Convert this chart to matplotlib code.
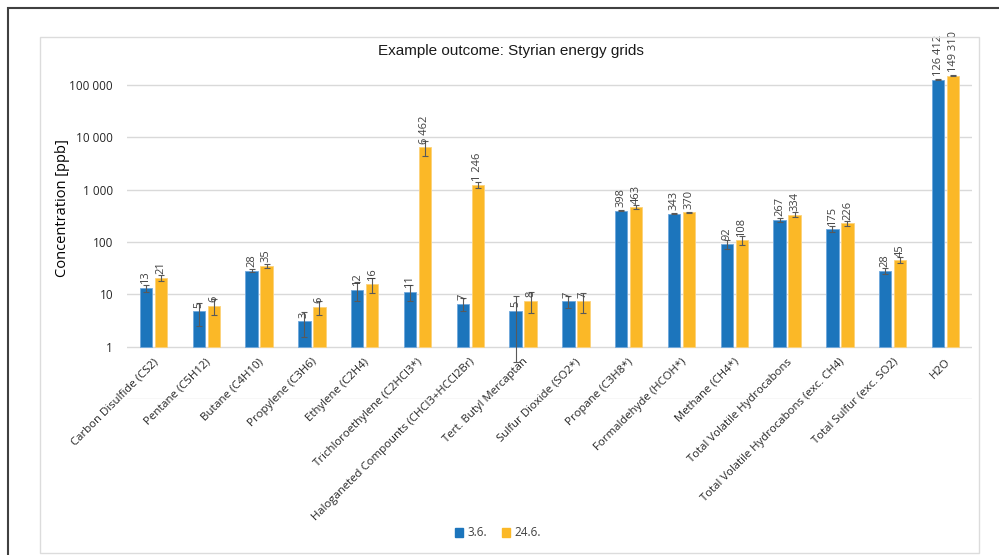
import numpy as np
import matplotlib
matplotlib.use("Agg")
import matplotlib.pyplot as plt
from matplotlib.patches import Rectangle, Patch

categories = ["Carbon Disulfide (CS2)", "Pentane (C5H12)", "Butane (C4H10)", "Propylene (C3H6)",
              "Ethylene (C2H4)", "Trichloroethylene (C2HCl3*)", "Haloganeted Compounts (CHCl3+HCCl2Br)",
              "Tert. Butyl Mercaptan", "Sulfur Dioxide (SO2*)", "Propane (C3H8*)", "Formaldehyde (HCOH*)",
              "Methane (CH4*)", "Total Volatile Hydrocabons", "Total Volatile Hydrocabons (exc. CH4)",
              "Total Sulfur (exc. SO2)", "H2O"]
series_names = ["3.6.", "24.6."]
vals_a = [13.3, 4.7, 28.4, 3.05, 12.3, 11.3, 6.6, 4.9, 7.4, 398, 343, 92, 267, 175, 28, 126412]
vals_b = [20.9, 6.0, 35.0, 5.8, 15.6, 6462, 1246, 7.6, 7.4, 463, 370, 108, 334, 226, 45, 149310]
err_a = [2.0, 2.2, 2.0, 1.5, 5.0, 4.0, 1.8, 4.4, 2.0, 10, 8, 18, 22, 23, 3.5, 4000]
err_b = [3.0, 2.0, 3.5, 1.8, 5.0, 2000, 180, 3.3, 3.0, 40, 8, 20, 32, 28, 6, 3000]
yticks = [1, 10, 100, 1000, 10000, 100000]

BLUE = "#1c75bc"
YELLOW = "#fbb827"
FONT = "Open Sans"

fig = plt.figure(figsize=(9.99, 5.55), dpi=100)
W, H = 999, 555

# outer frame and chart area border
fig.add_artist(Rectangle((8 / W, -0.05), 1.2, 1 - 8 / H + 0.05, transform=fig.transFigure,
                         fill=False, edgecolor="#404040", lw=1.5))
fig.add_artist(Rectangle((40 / W, 1 - 553 / H), 939 / W, 516 / H, transform=fig.transFigure,
                         fill=False, edgecolor="#dcdcdc", lw=1.0))

ax = fig.add_axes([127 / W, 1 - 399 / H, 845 / W, 335 / H])
x = np.arange(len(categories))
off = 0.142
bw = 0.235
va = np.array(vals_a)
vb = np.array(vals_b)
ax.bar(x - off, va - 1, bottom=1, width=bw, color=BLUE, edgecolor="#6fa8dc", linewidth=0.6, zorder=2)
ax.bar(x + off, vb - 1, bottom=1, width=bw, color=YELLOW, edgecolor="#fcd27a", linewidth=0.6, zorder=2)
ax.errorbar(x - off, va, yerr=err_a, fmt="none", ecolor="#595959", elinewidth=0.8, capsize=2,
            capthick=0.8, zorder=3)
ax.errorbar(x + off, vb, yerr=err_b, fmt="none", ecolor="#595959", elinewidth=0.8, capsize=2,
            capthick=0.8, zorder=3)

def fmt(v):
    return f"{int(round(v)):,}".replace(",", " ")

for xs, vs in ((x - off, va), (x + off, vb)):
    for xi, v in zip(xs, vs):
        ax.annotate(fmt(v), (xi, v), xytext=(0, 2.5), textcoords="offset points",
                    rotation=90, ha="center", va="bottom", fontsize=8, color="#404040",
                    family=FONT, zorder=4, annotation_clip=False)

ax.set_yscale("log")
ax.set_ylim(0.1, 10 ** 5.4)
ax.set_xlim(-0.5, len(categories) - 0.5)
for g in [0.1] + yticks:
    ax.axhline(g, color="#d9d9d9", lw=1, zorder=1)
ax.set_yticks(yticks)
ax.set_yticklabels([fmt(t) for t in yticks], family=FONT, fontsize=8.5, color="#262626")
ax.minorticks_off()
ax.tick_params(axis="y", length=0, pad=10)
ax.set_xticks(x)
ax.set_xticklabels([])
ax.tick_params(axis="x", length=0)
for s in ax.spines.values():
    s.set_visible(False)

for xi, c in zip(x, categories):
    ax.annotate(c, (xi, 1), xytext=(-0.5, -7), textcoords="offset points", rotation=45,
                ha="right", va="top", rotation_mode="anchor", fontsize=8.2, color="#262626",
                family=FONT, annotation_clip=False, zorder=5)

fig.text(62 / W, 1 - 208 / H, "Concentration [ppb]", rotation=90, ha="center", va="center",
         family=FONT, fontsize=10.5, color="#000000")

fig.text(511 / W, 1 - 51 / H, "Example outcome: Styrian energy grids", ha="center", va="center",
         fontsize=11, family="Liberation Sans", color="#1a1a1a")

handles = [Patch(facecolor=BLUE, edgecolor=BLUE), Patch(facecolor=YELLOW, edgecolor=YELLOW)]
fig.legend(handles, series_names, loc="center", bbox_to_anchor=(498 / W, 1 - 533 / H), ncol=2,
           frameon=False, prop={"family": FONT, "size": 8.5}, handlelength=0.7, handleheight=0.7,
           handletextpad=0.4, columnspacing=1.2, labelcolor="#404040")

fig.savefig("out.png", dpi=100)
